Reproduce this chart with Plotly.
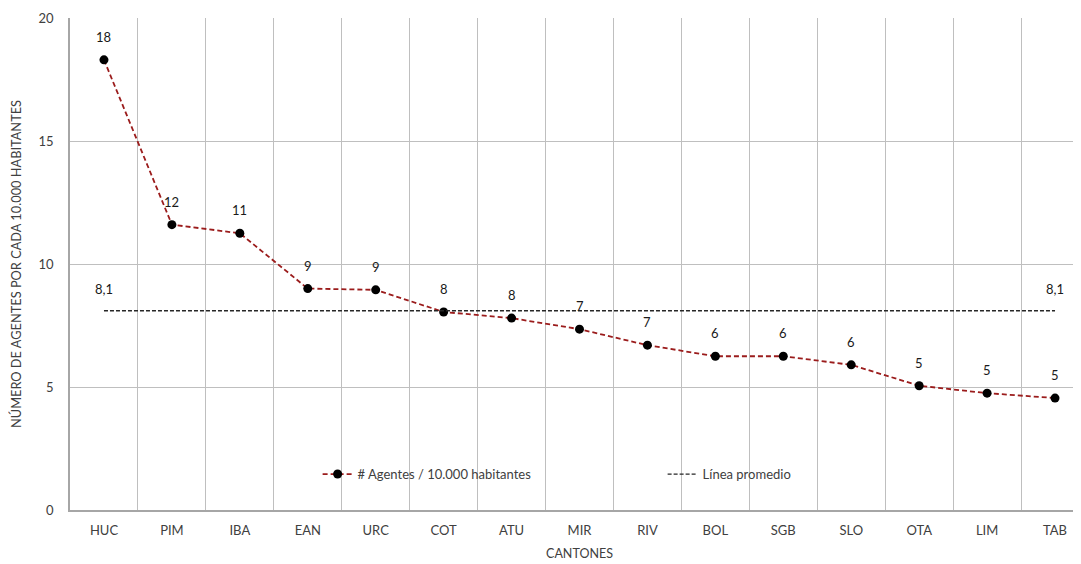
import plotly.graph_objects as go

cantones = ['HUC', 'PIM', 'IBA', 'EAN', 'URC', 'COT', 'ATU', 'MIR', 'RIV', 'BOL', 'SGB', 'SLO', 'OTA', 'LIM', 'TAB']
agentes = [18.3, 11.6, 11.25, 9.0, 8.95, 8.05, 7.8, 7.35, 6.7, 6.25, 6.25, 5.9, 5.05, 4.75, 4.55]
etiquetas = ['18', '12', '11', '9', '9', '8', '8', '7', '7', '6', '6', '6', '5', '5', '5']
promedio = 8.1
promedio_txt = '8,1'

font_fam = 'Lato, Open Sans, sans-serif'
grid = '#bfbfbf'
txt = '#404040'
lbl_font = dict(size=13, color='#1a1a1a', family=font_fam)

fig = go.Figure()

# main series
fig.add_trace(go.Scatter(x=cantones, y=agentes, mode='lines+markers',
                         name='# Agentes / 10.000 habitantes',
                         line=dict(color='#9b1c1c', width=1.8, dash='5px,3px'),
                         marker=dict(color='black', size=9)))

# average line
fig.add_trace(go.Scatter(x=[cantones[0], cantones[-1]], y=[promedio, promedio],
                         mode='lines', name='Línea promedio',
                         line=dict(color='#262626', width=1.3, dash='4px,2px')))

# data labels
for c, v, t in zip(cantones, agentes, etiquetas):
    fig.add_annotation(x=c, y=v, text=t, showarrow=False, yshift=23, font=lbl_font)
for c in (cantones[0], cantones[-1]):
    fig.add_annotation(x=c, y=promedio, text=promedio_txt, showarrow=False,
                       yshift=22, font=lbl_font)

# page body adds an 8px margin; the original plot area runs slightly past the right edge
fig.update_layout(
    width=1081, height=556,
    margin=dict(l=62, r=0, t=10, b=54),
    plot_bgcolor='white', paper_bgcolor='white',
    font=dict(family=font_fam, size=13, color=txt),
    legend=dict(orientation='h', x=0.243, y=0.073, xanchor='left', yanchor='middle',
                bgcolor='rgba(0,0,0,0)',
                font=dict(size=13, color=txt), entrywidth=300),
    xaxis=dict(title=dict(text='CANTONES', font=dict(size=12.5), standoff=12),
               type='category', categoryorder='array', categoryarray=cantones,
               range=[-0.5, len(cantones) - 0.5], automargin=False,
               showgrid=True, gridcolor=grid, tickson='boundaries',
               showline=True, linecolor='#a6a6a6', linewidth=1.5,
               ticks='', ticklabelstandoff=8),
    yaxis=dict(title=dict(text='NÚMERO DE AGENTES POR CADA 10.000 HABITANTES', font=dict(size=12.8), standoff=18),
               range=[0, 20], tickvals=[0, 5, 10, 15, 20], automargin=False,
               showgrid=True, gridcolor=grid, zeroline=False,
               showline=True, linecolor='#a6a6a6', linewidth=1.5,
               ticks='outside', ticklen=12, tickcolor='rgba(0,0,0,0)'),
)

fig.write_html('out.html')
